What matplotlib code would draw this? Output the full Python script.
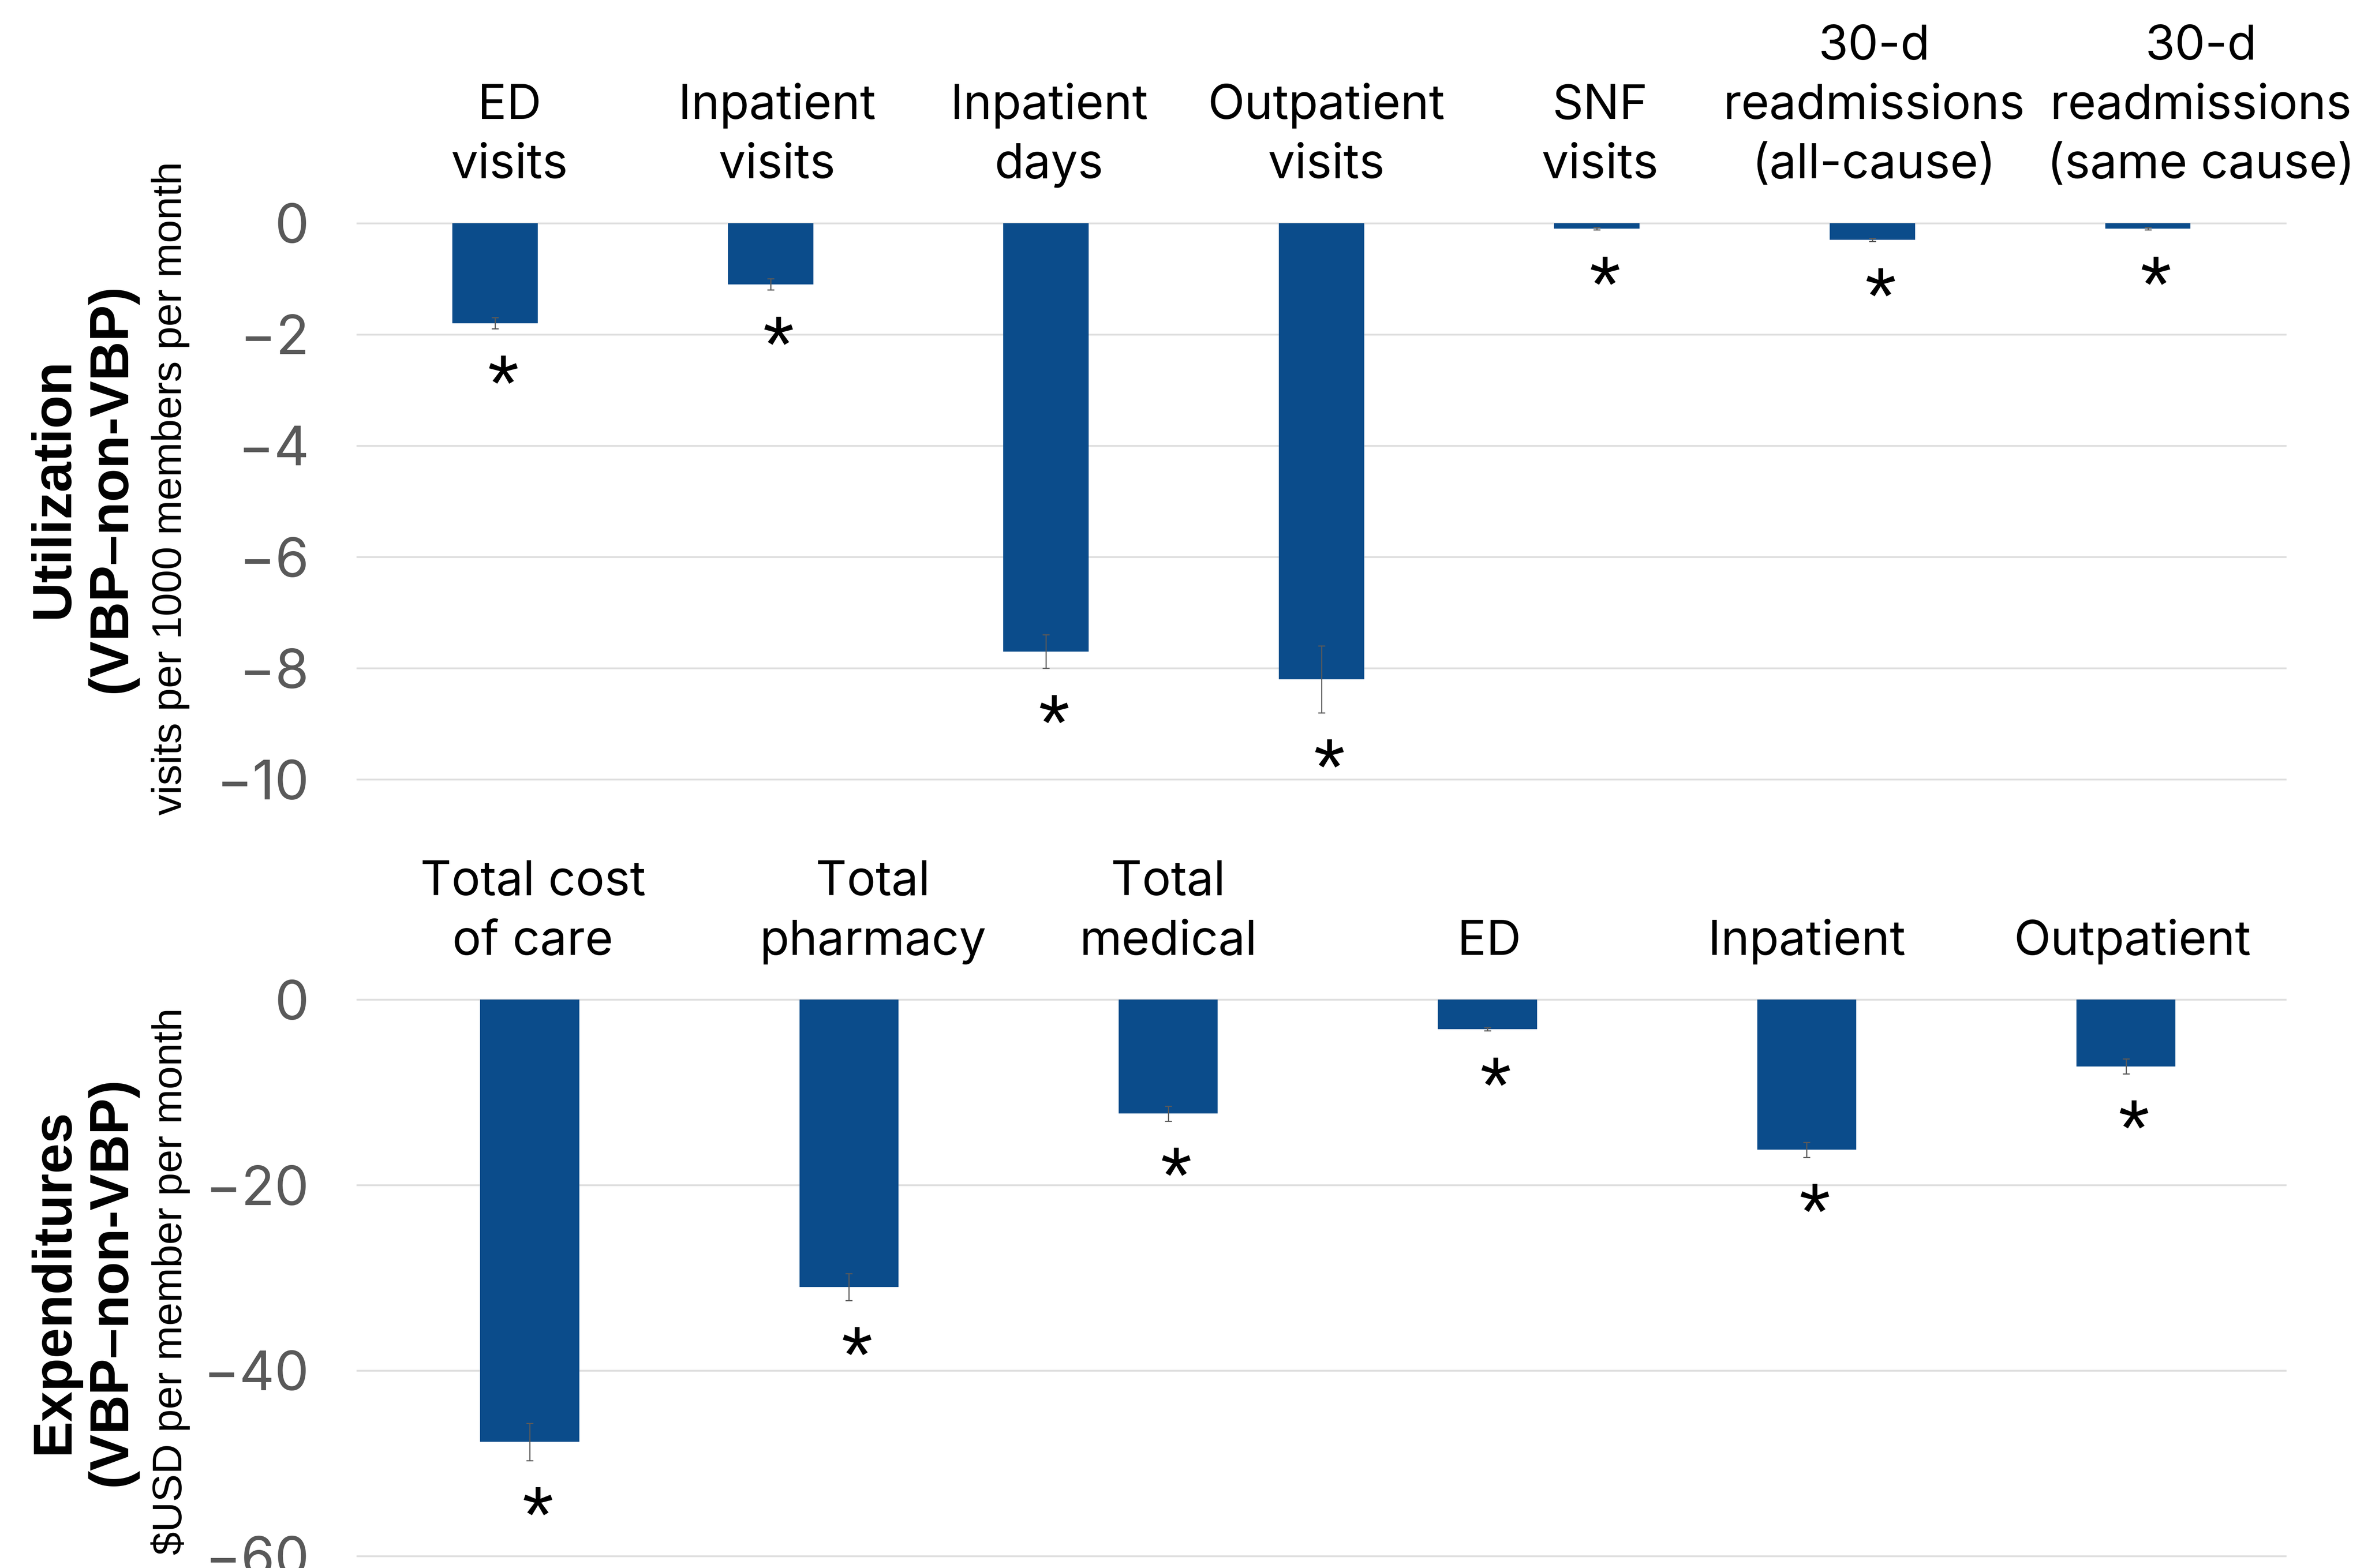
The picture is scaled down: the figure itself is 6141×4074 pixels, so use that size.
import matplotlib.pyplot as plt

# utilization differences, VBP minus non-VBP (visits per 1000 members per month)
util_labels = ["ED\nvisits", "Inpatient\nvisits", "Inpatient\ndays", "Outpatient\nvisits",
               "SNF\nvisits", "30-d\nreadmissions\n(all-cause)", "30-d\nreadmissions\n(same cause)"]
util_diff = [-1.8, -1.1, -7.7, -8.2, -0.1, -0.3, -0.1]
util_err = [0.1, 0.1, 0.3, 0.6, 0.02, 0.03, 0.02]
util_ticks = [0, -2, -4, -6, -8, -10]

# expenditure differences ($USD per member per month)
cost_labels = ["Total cost\nof care", "Total\npharmacy", "Total\nmedical", "ED", "Inpatient", "Outpatient"]
cost_diff = [-47.7, -31.0, -12.3, -3.2, -16.2, -7.2]
cost_err = [2.0, 1.45, 0.8, 0.17, 0.8, 0.8]
cost_ticks = [0, -20, -40, -60]

BLUE = "#0b4c8b"
W, H = 1568, 1040   # layout worked out on a 1568x1040 grid

fig = plt.figure(figsize=(6141 / 300, 4074 / 300), dpi=300)


def axes_at(left, right, top, bottom):
    return fig.add_axes([left / W, 1 - bottom / H, (right - left) / W, (bottom - top) / H])


def panel(ax, labels, vals, errs, ticks, xlim, label_dx):
    x = list(range(len(vals)))
    ax.bar(x, vals, width=0.31, color=BLUE, zorder=2)
    ax.errorbar(x, vals, yerr=errs, fmt="none", ecolor="#5a5a5a",
                elinewidth=0.7, capsize=2.2, capthick=0.7, zorder=3)
    ax.set_xlim(*xlim)
    ax.set_ylim(ticks[-1], 0)
    ax.set_yticks(ticks)
    ax.set_xticks([])
    for s in ax.spines.values():
        s.set_visible(False)
    ax.tick_params(axis="y", length=0, pad=30, labelsize=34, labelcolor="#595959")
    for t in ax.get_yticklabels():
        t.set_fontfamily("Inter")
    ax.yaxis.grid(True, color="#dedede", lw=1.1)
    ax.set_axisbelow(True)
    for gl in ax.get_ygridlines():
        gl.set_clip_on(False)

    for i, (lab, v, e) in enumerate(zip(labels, vals, errs)):
        ax.annotate(lab, (i, 0), xytext=(label_dx[i], 22), textcoords="offset points",
                    ha="center", va="bottom", fontsize=30, family="Inter",
                    linespacing=1.42, annotation_clip=False)
        # significance marker under each bar
        ax.annotate("*", (i, v - e), xytext=(5, -38), textcoords="offset points",
                    ha="center", va="center", fontsize=50, family="Liberation Sans",
                    annotation_clip=False)


ax1 = axes_at(237, 1516, 148, 517)
panel(ax1, util_labels, util_diff, util_err, util_ticks, (-0.5, 6.5),
      [9, 4, 2, 3, 2, 1, 33])

ax2 = axes_at(237, 1516, 663, 1032)
panel(ax2, cost_labels, cost_diff, cost_err, cost_ticks, (-0.54, 5.5),
      [2, 15, 0, 1, 0, 4])

# y-axis titles
fig.text(55 / W, 1 - 324 / H, "Utilization\n(VBP\u2013non-VBP)", rotation=90,
         ha="center", va="center", multialignment="center",
         fontsize=34, fontweight="bold", family="Liberation Sans", linespacing=1.15)
fig.text(113 / W, 1 - 324 / H, "visits per 1000 members per month", rotation=90,
         ha="center", va="center", fontsize=26, family="Liberation Sans")

fig.text(55 / W, 1 - 850 / H, "Expenditures\n(VBP\u2013non-VBP)", rotation=90,
         ha="center", va="center", multialignment="center",
         fontsize=34, fontweight="bold", family="Liberation Sans", linespacing=1.15)
fig.text(113 / W, 1 - 850 / H, "$USD per member per month", rotation=90,
         ha="center", va="center", fontsize=26, family="Liberation Sans")

fig.savefig("out.png", dpi=300)
